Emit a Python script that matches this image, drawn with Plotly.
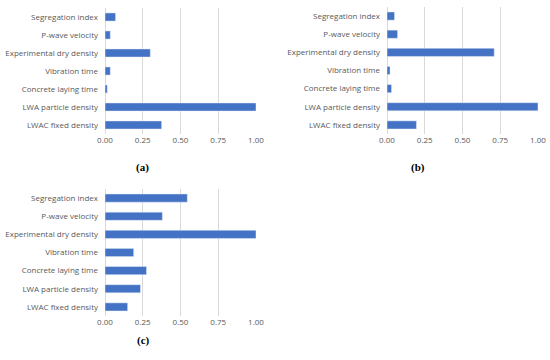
import plotly.graph_objects as go

categories = ["LWAC fixed density", "LWA particle density", "Concrete laying time",
              "Vibration time", "Experimental dry density", "P-wave velocity",
              "Segregation index"]
values_a = [0.375, 1.00, 0.015, 0.035, 0.30, 0.035, 0.07]
values_b = [0.195, 1.00, 0.03, 0.02, 0.71, 0.07, 0.05]
values_c = [0.15, 0.235, 0.275, 0.19, 1.00, 0.38, 0.545]
tick_vals = [0, 0.25, 0.5, 0.75, 1.0]
tick_text = ["0.00", "0.25", "0.50", "0.75", "1.00"]
panel_labels = ["(a)", "(b)", "(c)"]

W, H = 550, 360
BAR = "#4472C4"
GRID = "#D9D9D9"
TXT = "#595959"
FONT = "Open Sans"

fig = go.Figure()

panels = [
    (values_a, "x", "y", (105, 256), (8, 134), (134, 167)),
    (values_b, "x2", "y2", (387, 538), (7, 134), (427, 167)),
    (values_c, "x3", "y3", (105, 256), (189, 316), (135, 349)),
]

layout = {}
for i, (vals, xa, ya, (x0, x1), (yt, yb), (lx, ly)) in enumerate(panels):
    fig.add_trace(go.Bar(x=vals, y=categories, orientation="h", marker_color=BAR,
                         xaxis=xa, yaxis=ya, width=0.45, showlegend=False))
    xkey = "xaxis" + ("" if i == 0 else str(i + 1))
    ykey = "yaxis" + ("" if i == 0 else str(i + 1))
    layout[xkey] = dict(domain=[x0 / W, x1 / W], range=[0, 1.0], tickvals=tick_vals,
                        ticktext=tick_text, showgrid=True, gridcolor=GRID, gridwidth=1,
                        zeroline=True, zerolinecolor=GRID, zerolinewidth=1,
                        showline=False, ticks="", anchor=ya, automargin=False,
                        ticklabeloverflow="allow",
                        tickfont=dict(family=FONT, size=8, color=TXT))
    layout[ykey] = dict(domain=[1 - yb / H, 1 - yt / H], range=[-0.5, 6.5],
                        showgrid=False, zeroline=False, showline=False, ticks="",
                        anchor=xa, ticklabelstandoff=6, automargin=False,
                        ticklabeloverflow="allow",
                        tickfont=dict(family=FONT, size=8, color=TXT))
    fig.add_annotation(x=lx / W, y=1 - ly / H, xref="paper", yref="paper",
                       text="<b>" + panel_labels[i] + "</b>", showarrow=False,
                       font=dict(family="Liberation Serif", size=11, color="#000000"))

fig.update_layout(width=W, height=H, margin=dict(l=0, r=0, t=0, b=0, autoexpand=False),
                  paper_bgcolor="white", plot_bgcolor="white", **layout)

fig.write_html("out.html", config={"displayModeBar": False},
               post_script="document.body.style.margin='0';document.body.style.overflow='hidden';")
